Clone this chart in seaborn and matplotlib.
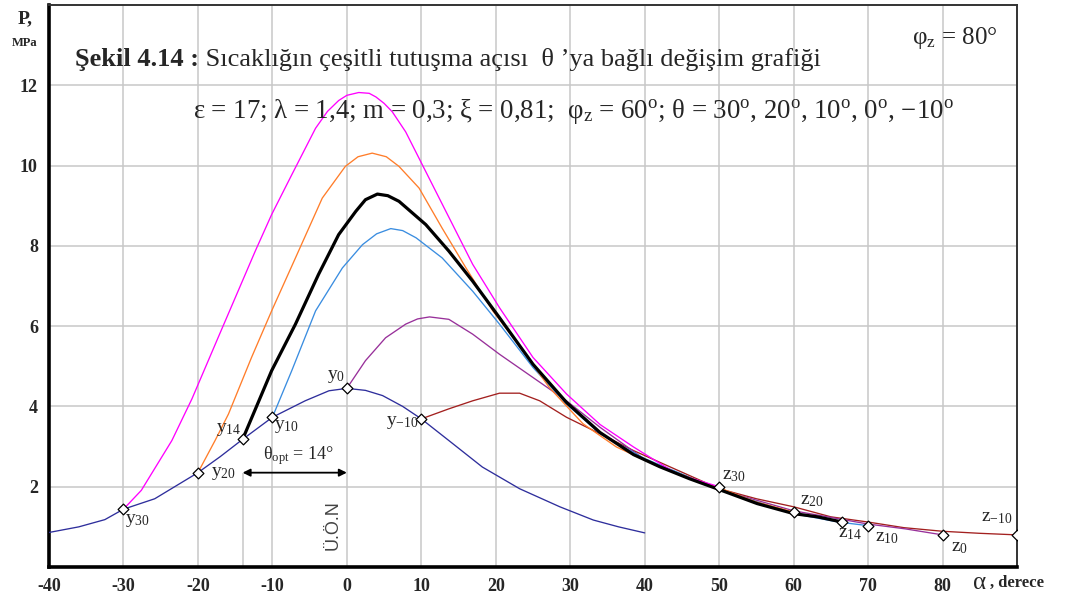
import numpy as np
import pandas as pd
import matplotlib
matplotlib.use("Agg")
import matplotlib.pyplot as plt
import seaborn as sns

# ---------------- data ----------------
base_alpha = [-40, -36, -32.5, -30, -25.8, -20, -17, -14, -10, -5.6, -2.4, 0, 2.5, 4.8, 7.5, 10, 13.7, 18.2, 23.2, 28.6, 33.1, 36.5, 40]
base_p     = [0.86, 1.0, 1.18, 1.44, 1.70, 2.35, 2.75, 3.18, 3.73, 4.14, 4.39, 4.45, 4.40, 4.27, 4.0, 3.69, 3.15, 2.49, 1.95, 1.50, 1.17, 1.0, 0.85]

th30_alpha = [-30, -27.6, -23.5, -20.8, -17.3, -12.3, -10.1, -7.4, -4.2, -2.6, -1.1, 0, 1.6, 3.0, 3.9, 5.0, 6.1, 7.9, 9.7, 13.3, 16.9, 20.5, 25.0, 29.5, 34.0, 38.5, 44.3, 50]
th30_p     = [1.44, 1.91, 3.15, 4.19, 5.71, 7.87, 8.78, 9.77, 10.93, 11.35, 11.62, 11.75, 11.82, 11.8, 11.71, 11.55, 11.34, 10.84, 10.18, 8.86, 7.54, 6.46, 5.22, 4.31, 3.55, 2.99, 2.32, 2.0]

th20_alpha = [-20, -17.7, -15.9, -12.8, -10.1, -6.9, -3.3, -0.2, 1.5, 3.4, 5.3, 7.0, 9.7, 12.8, 16.0, 19.6, 22.7, 27.2, 31.7, 36.2, 42.0, 50, 55, 60]
th20_p     = [2.35, 3.15, 3.81, 5.22, 6.38, 7.70, 9.19, 9.98, 10.22, 10.31, 10.22, 9.98, 9.44, 8.44, 7.45, 6.38, 5.63, 4.47, 3.57, 2.99, 2.49, 1.97, 1.62, 1.37]

th14_alpha = [-14, -10.1, -6.9, -3.8, -1.1, 1.2, 2.5, 4.1, 5.5, 7.0, 10.6, 13.7, 16.9, 20.5, 25.0, 29.5, 34.0, 38.5, 42.0, 46, 50, 55.1, 60, 63.2, 66.5]
th14_p     = [3.18, 4.89, 6.05, 7.29, 8.28, 8.86, 9.15, 9.29, 9.25, 9.11, 8.53, 7.87, 7.12, 6.21, 5.05, 4.1, 3.35, 2.8, 2.5, 2.2, 1.93, 1.58, 1.33, 1.25, 1.12]

th10_alpha = [-10, -7.4, -4.2, -0.6, 2.1, 4.0, 5.9, 7.5, 9.3, 12.8, 16.9, 20.5, 25.0, 29.5, 34.0, 40, 50, 60, 66, 70]
th10_p     = [3.73, 4.89, 6.38, 7.45, 8.03, 8.3, 8.43, 8.38, 8.20, 7.70, 6.87, 6.05, 4.97, 4.06, 3.32, 2.7, 1.93, 1.33, 1.12, 1.03]

th0_alpha = [0, 2.5, 5.2, 7.9, 9.5, 11.1, 13.7, 16.9, 20.5, 25.0, 29.5, 34.0, 40, 50, 60, 70, 75, 80]
th0_p     = [4.45, 5.14, 5.71, 6.05, 6.18, 6.23, 6.17, 5.80, 5.30, 4.72, 4.14, 3.48, 2.68, 1.93, 1.40, 1.07, 0.95, 0.80]

thm10_alpha = [10, 13.7, 16.9, 20.5, 23.2, 25.9, 29.5, 34.0, 38.5, 44.3, 50, 55, 60, 65, 70, 74.8, 80, 84.9, 90]
thm10_p     = [3.69, 3.94, 4.14, 4.33, 4.33, 4.14, 3.73, 3.32, 2.90, 2.42, 1.95, 1.70, 1.50, 1.25, 1.12, 0.98, 0.89, 0.84, 0.80]

y_pt_alpha  = [-30, -20, -14, -10, 0, 10]
y_pt_p      = [1.44, 2.35, 3.18, 3.73, 4.45, 3.69]
y_pt_labels = ["y$_{30}$", "y$_{20}$", "y$_{14}$", "y$_{10}$", "y$_{0}$", "y$_{-10}$"]

z_pt_alpha  = [50, 60, 66.5, 70, 80, 90]
z_pt_p      = [2.0, 1.37, 1.12, 1.03, 0.80, 0.80]
z_pt_labels = ["z$_{30}$", "z$_{20}$", "z$_{14}$", "z$_{10}$", "z$_{0}$", "z$_{-10}$"]

x_ticks = [-40, -30, -20, -10, 0, 10, 20, 30, 40, 50, 60, 70, 80]
y_ticks = [2, 4, 6, 8, 10, 12]

theta_opt = 14

# ---------------- style ----------------
sns.set_style("white")
plt.rcParams["font.family"] = ["Liberation Serif", "DejaVu Serif"]
plt.rcParams["mathtext.fontset"] = "custom"
plt.rcParams["mathtext.rm"] = "Liberation Serif"
plt.rcParams["mathtext.it"] = "Liberation Serif"
plt.rcParams["mathtext.bf"] = "Liberation Serif:bold"
plt.rcParams["axes.unicode_minus"] = False

W, H = 1069, 605
fig = plt.figure(figsize=(W / 100, H / 100), dpi=100)
fig.patch.set_facecolor("white")
ax = fig.add_axes([49 / W, 1 - 567 / H, (1017 - 49) / W, (567 - 5) / H])

grid_c = "#c8c8c8"
ax.set_xlim(-40, 90)
ax.set_ylim(0, 14)
ax.set_xticks(x_ticks)
ax.set_yticks(y_ticks)
ax.grid(True, color=grid_c, lw=1.1)
ax.set_axisbelow(True)
ax.tick_params(length=0, labelsize=13, pad=8)
for lab in ax.get_xticklabels() + ax.get_yticklabels():
    lab.set_fontweight("bold")

for side in ["left", "bottom"]:
    ax.spines[side].set_linewidth(2.6)
    ax.spines[side].set_color("black")
for side in ["top", "right"]:
    ax.spines[side].set_linewidth(1.4)
    ax.spines[side].set_color("#333333")

# extra vertical guide at -theta_opt
ax.vlines(-theta_opt, 0, 2.35, color=grid_c, lw=1.1, zorder=0.5)

series = [
    (base_alpha, base_p, "#2e2e9c", 0.95),
    (thm10_alpha, thm10_p, "#a3201f", 0.95),
    (th0_alpha, th0_p, "#98309a", 0.95),
    (th10_alpha, th10_p, "#3a8de0", 0.95),
    (th20_alpha, th20_p, "#ff7d2a", 0.95),
    (th30_alpha, th30_p, "#ff00ff", 0.95),
    (th14_alpha, th14_p, "black", 2.3),
]
for xa, ya, col, lw in series:
    df = pd.DataFrame({"a": xa, "p": ya})
    sns.lineplot(data=df, x="a", y="p", sort=False, color=col, lw=lw, ax=ax, zorder=3)

pts = pd.DataFrame({"a": y_pt_alpha + z_pt_alpha, "p": y_pt_p + z_pt_p})
sns.scatterplot(data=pts, x="a", y="p", marker="D", s=30, color="white",
                edgecolor="black", linewidth=0.9, ax=ax, zorder=5)
ax.set_xlabel("")
ax.set_ylabel("")

# point labels (offsets in pixels)
y_offs = [((2, -3), "left", "top"), ((13, -1), "left", "center"), ((-1, 10), "right", "center"),
          ((2, -1), "left", "top"), ((-2, 3), "right", "bottom"), ((-3, -4), "right", "center")]
z_offs = [((3, 3), "left", "bottom"), ((6, 3), "left", "bottom"), ((-4, -3), "left", "top"),
          ((7, -3), "left", "top"), ((8, -4), "left", "top"), ((-4, 9), "right", "bottom")]
for a, p, t, (off, ha, va) in zip(y_pt_alpha + z_pt_alpha, y_pt_p + z_pt_p,
                                  y_pt_labels + z_pt_labels, y_offs + z_offs):
    ax.annotate(t, (a, p), xytext=off, textcoords="offset pixels", ha=ha, va=va,
                fontsize=14, zorder=6)

# theta_opt arrow
ax.annotate("", xy=(-theta_opt, 2.35), xytext=(0, 2.35),
            arrowprops=dict(arrowstyle="<|-|>", color="black", lw=1.3,
                            shrinkA=0, shrinkB=0, mutation_scale=11), zorder=6)
ax.text(-6.5, 2.5, r"θ$_{\rm opt}$ = 14°", ha="center", va="bottom", fontsize=13, zorder=6)
ax.text(-1.8, 1.05, "Ü.Ö.N", rotation=90, ha="center", va="center", fontsize=13,
        color="#444444", family="Liberation Sans", zorder=6)

# titles and annotations
t1 = fig.text(75 / W, 1 - 66 / H, "Şekil 4.14 :", fontsize=19, fontweight="bold",
              ha="left", va="baseline")
ax.annotate(" Sıcaklığın çeşitli tutuşma açısı  θ ’ya bağlı değişim grafiği",
            xy=(1, 0), xycoords=t1, ha="left", va="bottom", fontsize=19,
            annotation_clip=False)
fig.text(193 / W, 1 - 112 / H,
         r"ε = 17; λ = 1,4; m = 0,3; ξ = 0,81;  φ$_{\rm z}$ = 60$^{\rm o}$; "
         r"θ = 30$^{\rm o}$, 20$^{\rm o}$, 10$^{\rm o}$, 0$^{\rm o}$, −10$^{\rm o}$",
         fontsize=19.3, ha="left", va="center")
fig.text(912 / W, 1 - 38 / H, r"φ$_{\rm z}$ = 80°", fontsize=18, ha="left", va="center")

fig.text(25 / W, 1 - 19 / H, "P,", fontsize=14, fontweight="bold", ha="center", va="center")
fig.text(25 / W, 1 - 43 / H, "MPa", fontsize=9, fontweight="bold", ha="center", va="center")
fig.text(973 / W, 1 - 583 / H, "α", fontsize=18, ha="left", va="center")
fig.text(990 / W, 1 - 583 / H, ", derece", fontsize=12, fontweight="bold", ha="left", va="center")

fig.savefig("out.png", dpi=100, facecolor="white")
